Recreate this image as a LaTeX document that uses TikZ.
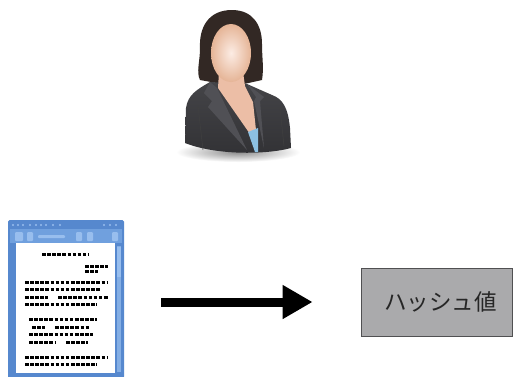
\documentclass[tikz,border=0pt]{standalone}
\usepackage{fontspec}
\newfontfamily\jpfont{Noto Sans CJK JP}
\usetikzlibrary{arrows.meta}

\definecolor{frameblue}{RGB}{86,136,206}
\definecolor{barblue}{RGB}{112,160,222}
\definecolor{btnblue}{RGB}{152,190,238}
\definecolor{hashgray}{RGB}{170,170,172}
\definecolor{hashedge}{RGB}{80,80,82}
\definecolor{hair}{RGB}{50,40,36}
\definecolor{suit}{RGB}{50,50,53}
\definecolor{suittop}{RGB}{68,68,72}
\definecolor{suitlight}{RGB}{80,80,85}
\definecolor{shirt}{RGB}{140,192,226}
\definecolor{skin}{RGB}{236,190,166}
\definecolor{skinlight}{RGB}{252,236,228}

\tikzset{
  hashbox/.style={draw=hashedge, line width=0.8pt, fill=hashgray,
    minimum width=151pt, minimum height=68pt, inner sep=0pt,
    font=\jpfont\fontsize{22.5}{22.5}\selectfont, text=black!85},
  docframe/.style={fill=frameblue, minimum width=116pt, minimum height=158pt,
    inner sep=0pt, rounded corners=1.5pt},
  textline/.style={line width=3pt, dash pattern=on 3.6pt off 1.5pt, black},
  bigarrow/.style={line width=9pt, -{Triangle[length=30pt,width=32pt]}},
}

\begin{document}
\begin{tikzpicture}[x=1pt,y=-1pt]
\useasboundingbox (0,0) rectangle (514,376);
\fill[white] (0,0) rectangle (514,376);

% ---- person icon ----
\shade[inner color=black!45, outer color=white]
  (238,152) ellipse [x radius=62pt, y radius=10pt];
% hair
\fill[hair] (232,10) .. controls (208,10) and (199,28) .. (200,48)
  .. controls (200,62) and (196,72) .. (200,80) -- (222,84) -- (244,84)
  -- (262,80) .. controls (264,68) and (262,58) .. (262,44)
  .. controls (262,24) and (252,10) .. (232,10) -- cycle;
% jacket
\shade[top color=suittop, bottom color=suit]
  (210,82) .. controls (196,90) and (188,95) .. (186,108) -- (185,143)
  .. controls (215,155) and (265,155) .. (291,148) -- (290,128)
  .. controls (288,108) and (283,99) .. (272,95) -- (247,84) -- cycle;
% lapels
\fill[suitlight] (210,82) -- (204,93) -- (212,101) -- (208,107) -- (247,150)
  -- (217,88) -- cycle;
\fill[suitlight] (247,84) -- (256,97) -- (254,101) -- (264,148) -- (260,101)
  -- (264,97) -- cycle;
\draw[black!75, line width=0.5pt] (198,106) -- (203,150);
\draw[black!75, line width=0.5pt] (280,108) -- (284,146);
% neck and chest
\fill[skin] (219,72) -- (243,72) -- (245,86) -- (253,102) -- (256,130)
  -- (250,134) -- (218,88) -- cycle;
% shirt
\fill[shirt] (248,132) -- (258,128) -- (258,152) -- (255,152) -- cycle;
% face
\shade[inner color=skinlight, outer color=skin!85!brown]
  (231,53) ellipse [x radius=20pt, y radius=29pt];

% ---- document window ----
\node[docframe] (doc) at (66,299) {};
% title bar dots
\foreach \x in {13,18,23,30,36,41,46,53,60}
  \fill[btnblue] (\x,225) circle [radius=1.1pt];
\foreach \x in {104,110,116}
  \fill[btnblue] (\x,225) circle [radius=1.1pt];
% toolbar
\fill[barblue] (10,229) rectangle (122,243);
\foreach \a/\b in {15/23,27/33,76/82,87/93,112/118}
  \fill[btnblue, rounded corners=1pt] (\a,232) rectangle (\b,241);
\fill[btnblue, rounded corners=1pt] (38,235) rectangle (65,238);
% page and scrollbar
\fill[white] (16,243) rectangle (115,373);
\fill[btnblue!70!frameblue] (116.5,246) rectangle (120.5,372);
\fill[btnblue] (116.5,247) rectangle (120.5,277);
% text lines
\draw[textline] (42,254) -- (88,254);
\draw[textline] (85,266) -- (108,266);
\draw[textline] (85,271) -- (98,271);
\draw[textline] (25,282) -- (108,282);
\draw[textline] (25,289) -- (101,289);
\draw[textline] (25,297) -- (48,297);
\draw[textline] (58,297) -- (108,297);
\draw[textline] (25,304) -- (97,304);
\draw[textline] (29,319) -- (97,319);
\draw[textline] (32,327) -- (45,327);
\draw[textline] (55,327) -- (90,327);
\draw[textline] (29,334) -- (93,334);
\draw[textline] (29,342) -- (55,342);
\draw[textline] (66,342) -- (88,342);
\draw[textline] (25,357) -- (108,357);
\draw[textline] (25,364) -- (97,364);

% ---- hash value box ----
\node[hashbox] (hash) at (436.5,302) {\hspace*{8pt}ハッシュ値};

% ---- arrow ----
\draw[bigarrow, shorten <=37pt, shorten >=48pt] (doc.east |- hash.west) -- (hash.west);
\end{tikzpicture}
\end{document}
